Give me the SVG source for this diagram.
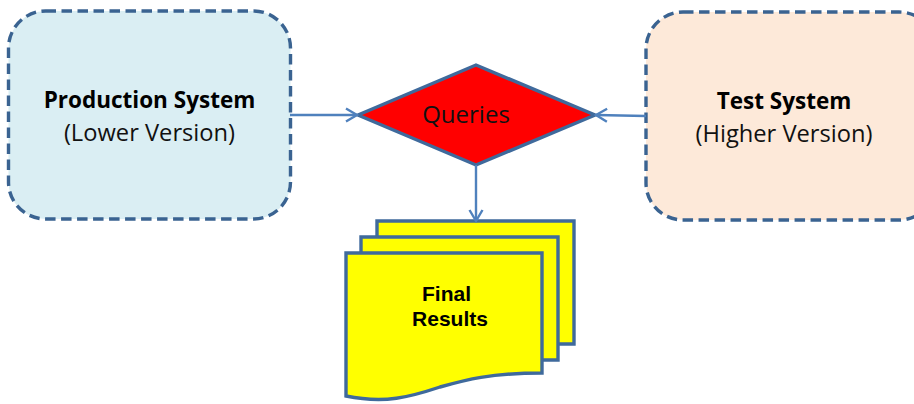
<svg xmlns="http://www.w3.org/2000/svg" width="914" height="404" viewBox="0 0 914 404">
<style>
.box{stroke:#3a6391;stroke-width:3.4;stroke-dasharray:10.500 5.500}
.doc{fill:#ffff00;stroke:#3f6a9c;stroke-width:3.4}
.c{fill:none;stroke:#4f81bd;stroke-width:2.4}
text{font-family:"Open Sans","Noto Sans",sans-serif;font-size:23.7px;fill:#111;text-anchor:middle}
.b{font-weight:700;font-size:22.5px;fill:#000}
.q{font-size:24px;fill:#111}
.a{font-family:"Liberation Sans",Arial,sans-serif;font-weight:700;font-size:21px;fill:#000}
</style>
<defs><marker id="arr" markerWidth="16" markerHeight="16" refX="13" refY="8" orient="auto" markerUnits="userSpaceOnUse"><path d="M2 1.500L13 8L2 14.500" fill="none" stroke="#4f81bd" stroke-width="2.400"/></marker></defs>
<rect width="914" height="404" fill="#fff"/>
<g id="production"><rect class="box" x="8.500" y="11" width="282" height="208" rx="37" fill="#daeef3"/><text class="b" x="149.500" y="108">Production System</text><text x="149.500" y="141">(Lower Version)</text></g>
<g id="test"><rect class="box" x="646" y="12" width="290" height="208" rx="37" fill="#fde9d9"/><text class="b" x="784" y="109">Test System</text><text x="784" y="142">(Higher Version)</text></g>
<g id="queries"><polygon points="358,115 476,65 595,115 476,165" fill="#ff0000" stroke="#3f6a9c" stroke-width="3.400"/><text class="q" x="466" y="123">Queries</text></g>
<g id="results"><path class="doc" d="M377 221H574V344H377Z"/><path class="doc" d="M361 237H558V360H361Z"/><path class="doc" d="M346 253H542V373C490 373 465 380 440 387C410 397 385 404 346 396Z"/><text class="a" x="446.500" y="301">Final</text><text class="a" x="450" y="326">Results</text></g>
<g id="connectors"><path class="c" d="M290 115H357" marker-end="url(#arr)"/><path class="c" d="M646 116L596 115" marker-end="url(#arr)"/><path class="c" d="M476 165V221" marker-end="url(#arr)"/></g>
</svg>
